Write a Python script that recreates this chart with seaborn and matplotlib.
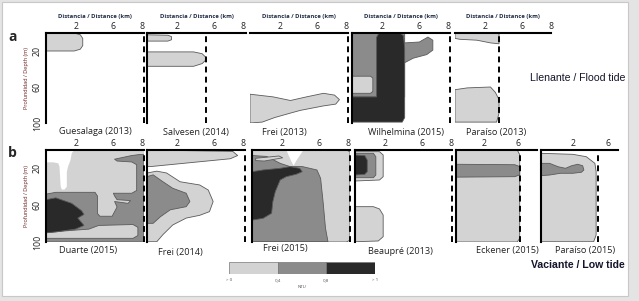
import matplotlib.pyplot as plt
import seaborn as sns
from matplotlib.patches import Rectangle

# colores de turbidez (NTU)
LIGHT = '#d3d3d3'
MID = '#8b8b8b'
DARK = '#292929'
EDGE = '#5a5a5a'

# contornos: (distancia km, profundidad m)
guesalaga_light = [(0, 0), (2.3, 0), (2.8, 2), (3.0, 6), (3.0, 14), (2.8, 18), (2.3, 20), (0, 20)]

salvesen_light_a = [(0, 2), (1.7, 2.5), (2.0, 4), (2.0, 7.5), (1.7, 9), (0, 9)]
salvesen_light_b = [(0, 21), (3.8, 21), (4.5, 23), (4.8, 27), (4.8, 30), (4.5, 34), (3.8, 37), (0, 37)]

frei13_light = [(0, 68), (1.9, 71), (3.3, 75), (4.6, 71), (6.0, 67), (6.9, 69), (7.3, 74), (7.0, 79),
                (6.0, 81), (4.1, 86), (3.3, 89), (2.0, 94), (1.0, 99), (0, 100)]

wilhelmina_mid = [(0, 0), (4.3, 0), (4.3, 11), (5.5, 10), (6.2, 4.5), (6.6, 8), (6.6, 19), (6.1, 24),
                  (5.0, 28), (4.3, 33), (4.3, 71), (0, 71)]
wilhelmina_dark = [(2.0, 5), (2.2, 0), (3.9, 0), (4.2, 3), (4.3, 17), (4.3, 94), (4.1, 99), (0, 99),
                   (0, 71), (2.0, 71)]
wilhelmina_light = [(0, 48), (1.5, 48), (1.7, 50), (1.7, 65), (1.5, 67), (0, 67)]

paraiso13_light_a = [(0, 0), (3.6, 0), (3.6, 12), (2.9, 11), (1.8, 8), (0.4, 7), (0, 6)]
paraiso13_light_b = [(0, 63), (1.0, 61), (2.9, 60), (3.3, 66), (3.6, 74), (3.6, 89), (3.4, 99), (0, 99)]

duarte_light = [(0, 0), (8, 0), (8, 100), (0, 100)]
duarte_white = [(0, 0), (2.3, 0), (2.1, 3.6), (2.0, 11), (1.8, 18), (1.7, 24), (1.7, 40), (1.5, 43),
                (1.3, 43), (1.2, 40), (1.1, 18), (1.0, 14.5), (0.6, 13.4), (0.1, 13.4), (0, 14.5)]
duarte_mid = [(0, 48), (0.8, 46), (4.0, 46), (4.2, 50), (4.2, 69), (4.4, 72), (5.4, 72), (5.6, 67),
              (5.8, 62), (5.6, 56), (6.7, 58), (6.9, 55), (5.8, 54), (5.6, 50), (5.5, 47), (7.0, 47),
              (7.4, 44), (7.4, 16), (7.0, 13), (5.8, 12), (5.6, 10), (7.0, 6), (7.6, 5), (8, 5),
              (8, 100), (0, 100)]
duarte_light_low = [(0, 90), (1.5, 88), (3.5, 86), (4.3, 82), (7.1, 81), (7.5, 84), (7.5, 93),
                    (7.1, 96), (0, 96)]
duarte_dark = [(0, 54), (0.8, 52), (2.1, 58), (2.9, 66), (3.1, 70), (2.6, 74), (3.1, 82), (2.4, 86),
               (0.8, 89), (0, 90)]

frei14_light_a = [(0, 0), (7.0, 1.5), (7.4, 6), (6.8, 9.5), (0.3, 18), (0, 18)]
frei14_light_b = [(0, 25), (0.8, 23), (1.6, 25), (2.7, 34.5), (4.3, 38), (5.0, 43.5), (5.4, 56),
                  (5.1, 67), (4.3, 71), (3.2, 74), (2.1, 81.5), (1.3, 92), (0.8, 99.7), (0, 99.7)]
frei14_mid = [(0, 29), (0.5, 27), (1.3, 34.5), (2.1, 41.6), (3.2, 47), (3.5, 56), (3.2, 61.6),
              (1.9, 65), (1.1, 72.5), (0.5, 79.7), (0, 79.7)]

frei15_light = [(0, 0), (7.7, 0), (8, 2), (8, 98), (7.7, 100), (0, 100)]
frei15_white = [(2.8, 0), (4.2, 0), (3.6, 12), (3.4, 17), (3.2, 12)]
frei15_mid = [(0, 6), (1.2, 7), (2.3, 14.5), (3.1, 18), (4.1, 18), (5.3, 21.7), (5.6, 30.8),
              (5.8, 56), (6.0, 85), (6.2, 99.6), (0, 99.6)]
frei15_light_finger = [(0.3, 9), (2.2, 6.5), (2.5, 8.5), (1.0, 12), (0.3, 11.5)]
frei15_dark = [(0, 23.6), (0.9, 21.7), (2.3, 19.9), (3.1, 18.1), (3.9, 19.9), (4.1, 23.6), (3.6, 26.4),
               (2.8, 29), (2.3, 32.6), (1.9, 45.3), (1.7, 56.2), (1.6, 68.8), (0.9, 74.3), (0.1, 76),
               (0, 76)]

beaupre_light_a = [(0, 1.8), (2.0, 1.8), (2.3, 5.4), (2.3, 29), (2.0, 32.6), (0, 33.7)]
beaupre_mid = [(0, 3.6), (1.5, 3.6), (1.7, 7.3), (1.7, 27.2), (1.5, 30.1), (0, 30.1)]
beaupre_dark = [(0, 5.4), (0.8, 6.2), (1.0, 10.9), (1.0, 23.6), (0.8, 26.4), (0, 27.2)]
beaupre_light_b = [(0, 61.6), (1.5, 61.6), (2.0, 64.1), (2.3, 70.7), (2.3, 94.2), (1.9, 98.9),
                   (0, 99.7)]

eckener_light = [(0, 0), (5.0, 0), (5.2, 5), (5.2, 96), (5.0, 100), (0, 100)]
eckener_mid = [(0, 15.5), (4.8, 16), (5.2, 18), (5.2, 27), (4.8, 29), (0, 29.5)]

paraiso15_light = [(0, 3.6), (2.6, 4.7), (3.7, 7.3), (4.4, 14.5), (4.5, 23.6), (4.5, 92.4),
                   (4.3, 99.7), (0, 99.7)]
paraiso15_mid = [(0, 14.5), (0.7, 14.5), (1.4, 18.2), (2.0, 19.9), (2.5, 17.1), (3.0, 15.5),
                 (3.4, 17.1), (3.5, 21.7), (3.3, 24.2), (2.6, 25.3), (1.6, 25.3), (0.7, 27.2),
                 (0, 27.9)]

tick_pos8 = [2.45, 5.5, 7.85]
tick_lab8 = ['2', '6', '8']
depth_ticks = [20, 60, 100]

# leyenda
ntu_edges = [0, 0.4, 0.8, 1.2]
ntu_labels = ['> 0', '0,4', '0,8', '> 1']
ntu_colors = [LIGHT, MID, DARK]

sns.set_theme(style='white')
plt.rcParams['font.family'] = ['Open Sans', 'DejaVu Sans']

FW, FH = 639, 301
PX_KM = 12.25
fig = plt.figure(figsize=(FW / 100, FH / 100), dpi=100)
fig.patch.set_facecolor('#e4e4e4')
fig.patches.append(Rectangle((2 / FW, 5 / FH), 626 / FW, 294 / FH, transform=fig.transFigure,
                             facecolor='white', edgecolor='#c8c8c8', lw=0.8, zorder=-1))

panels = [
    # fila a - Llenante
    dict(box=(46, 33, 98, 90), left=True, dash=8.0, ticks=tick_pos8, labs=tick_lab8, ylab=True,
         name='Guesalaga (2013)', at=(95, 132), xlab=True, layers=[(LIGHT, guesalaga_light)]),
    dict(box=(147, 33, 99, 90), left=True, dash=4.8, ticks=tick_pos8, labs=tick_lab8,
         name='Salvesen (2014)', at=(196, 132), xlab=True,
         layers=[(LIGHT, salvesen_light_a), (LIGHT, salvesen_light_b)]),
    dict(box=(250, 33, 98, 90), left=False, dash=8.0, ticks=tick_pos8, labs=tick_lab8,
         name='Frei (2013)', at=(284, 132), xlab=True, layers=[(LIGHT, frei13_light)]),
    dict(box=(352, 33, 98, 90), left=True, dash=8.0, ticks=tick_pos8, labs=tick_lab8,
         name='Wilhelmina (2015)', at=(406, 132), xlab=True,
         layers=[(MID, wilhelmina_mid), (DARK, wilhelmina_dark), (LIGHT, wilhelmina_light)]),
    dict(box=(455, 33, 96, 90), left=False, dash=3.6, ticks=tick_pos8, labs=tick_lab8,
         name='Paraíso (2013)', at=(496, 132), xlab=True,
         layers=[(LIGHT, paraiso13_light_a), (LIGHT, paraiso13_light_b)]),
    # fila b - Vaciante
    dict(box=(46, 150, 98, 92), left=True, dash=8.0, ticks=tick_pos8, labs=tick_lab8, ylab=True,
         name='Duarte (2015)', at=(88, 250),
         layers=[(LIGHT, duarte_light), ('white', duarte_white), (MID, duarte_mid),
                 (LIGHT, duarte_light_low), (DARK, duarte_dark)]),
    dict(box=(147, 150, 98, 92), left=True, dash=8.0, ticks=tick_pos8, labs=tick_lab8,
         name='Frei (2014)', at=(180, 252),
         layers=[(LIGHT, frei14_light_a), (LIGHT, frei14_light_b), (MID, frei14_mid)]),
    dict(box=(252, 150, 98, 92), left=True, dash=8.0, ticks=tick_pos8, labs=tick_lab8,
         name='Frei (2015)', at=(285, 248),
         layers=[(LIGHT, frei15_light), ('white', frei15_white), (MID, frei15_mid),
                 (LIGHT, frei15_light_finger), (DARK, frei15_dark)]),
    dict(box=(355, 150, 97, 92), left=True, dash=7.9, ticks=tick_pos8, labs=tick_lab8,
         name='Beaupré (2013)', at=(400, 251),
         layers=[(LIGHT, beaupre_light_a), (MID, beaupre_mid), (DARK, beaupre_dark),
                 (LIGHT, beaupre_light_b)]),
    dict(box=(456, 150, 81, 92), left=True, dash=5.2, ticks=[2.3, 5.1], labs=['2', '6'],
         name='Eckener (2015)', at=(507, 250),
         layers=[(LIGHT, eckener_light), (MID, eckener_mid)]),
    dict(box=(541, 150, 77, 92), left=True, dash=4.65, ticks=[2.6, 5.5], labs=['2', '6'],
         name='Paraíso (2015)', at=(585, 250),
         layers=[(LIGHT, paraiso15_light), (MID, paraiso15_mid)]),
]

for p in panels:
    L, T, W, H = p['box']
    ax = fig.add_axes([L / FW, 1 - (T + H) / FH, W / FW, H / FH])
    ax.patch.set_alpha(0)
    ax.set_xlim(0, W / PX_KM)
    ax.set_ylim(100, 0)
    for color, shape in p['layers']:
        xs = [s[0] for s in shape]
        ys = [s[1] for s in shape]
        ax.fill(xs, ys, facecolor=color, edgecolor=EDGE if color != 'white' else 'none',
                lw=0.6, joinstyle='round')
    ax.axvline(p['dash'], color='black', lw=1.4, ls=(0, (3, 2.2)), clip_on=False)
    sns.despine(ax=ax, top=False, right=True, bottom=True, left=not p['left'])
    ax.spines['top'].set_color('black')
    ax.spines['top'].set_linewidth(1.5)
    ax.spines['left'].set_color('black')
    ax.spines['left'].set_linewidth(1.5)
    ax.xaxis.tick_top()
    ax.set_xticks(p['ticks'], p['labs'])
    ax.tick_params(axis='x', length=0, pad=1.5, labelsize=6.3, labelcolor='#222222')
    if p.get('xlab'):
        ax.xaxis.set_label_position('top')
        ax.set_xlabel('Distancia / Distance (km)', fontsize=4.2, fontweight='bold',
                      color='#1f2a44', labelpad=3)
    if p.get('ylab'):
        ax.set_yticks(depth_ticks, [str(d) for d in depth_ticks])
        ax.tick_params(axis='y', length=0, pad=3, labelsize=6.3, labelcolor='#222222')
        for t in ax.get_yticklabels():
            t.set_rotation(90)
            t.set_va('center')
        ax.set_ylabel('Profundidad / Depth (m)', fontsize=4.0, color='#6b1d1d', labelpad=3)
    else:
        ax.set_yticks([])
    fig.text(p['at'][0] / FW, 1 - p['at'][1] / FH, p['name'], ha='center', va='center',
             fontsize=6.6, color='#222222')

fig.text(8 / FW, 1 - 37 / FH, 'a', fontsize=10, fontweight='bold', ha='left', va='center')
fig.text(8 / FW, 1 - 153 / FH, 'b', fontsize=10, fontweight='bold', ha='left', va='center')
fig.text(578 / FW, 1 - 78 / FH, 'Llenante / Flood tide', fontsize=7.6, ha='center', va='center',
         color='#14142b', family=['Liberation Sans', 'DejaVu Sans'])
fig.text(578 / FW, 1 - 265 / FH, 'Vaciante / Low tide', fontsize=7.6, ha='center', va='center',
         color='#14142b', fontweight='bold', family=['Liberation Sans', 'DejaVu Sans'])

# barra de leyenda NTU
lax = fig.add_axes([229 / FW, 1 - 274 / FH, 146 / FW, 12 / FH])
lax.barh([0] * 3, [ntu_edges[i + 1] - ntu_edges[i] for i in range(3)], left=ntu_edges[:3],
         height=1, color=ntu_colors, edgecolor='#777777', lw=0.5)
lax.set_xlim(ntu_edges[0], ntu_edges[-1])
lax.set_ylim(-0.5, 0.5)
lax.set_xticks(ntu_edges, ntu_labels)
lax.set_yticks([])
lax.tick_params(axis='x', length=0, pad=3, labelsize=3.2, labelcolor='#555555')
for s in lax.spines.values():
    s.set_visible(False)
lax.set_xlabel('NTU', fontsize=3.2, color='#555555', labelpad=2)

fig.savefig('out.png', dpi=100)
